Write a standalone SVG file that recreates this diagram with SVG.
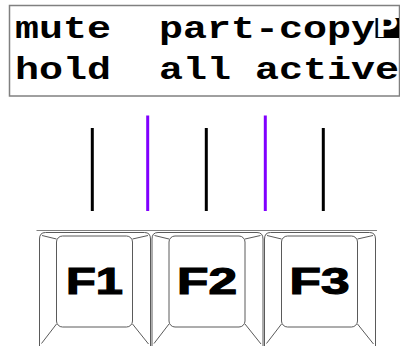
<svg xmlns="http://www.w3.org/2000/svg" width="400" height="346" viewBox="0 0 400 346">
<style>
.lcd{font-family:"Liberation Mono","Courier New",monospace;font-weight:bold;font-size:31px;fill:#000}
.frame{fill:#fff;stroke:#808080;stroke-width:1.5}
.key{fill:#fff;stroke:#5a5a5a;stroke-width:1}
.bev{fill:none;stroke:#5a5a5a;stroke-width:1}
.lbl{font-family:"Liberation Sans",Arial,sans-serif;font-weight:bold;font-size:37px;fill:#000;stroke:#000;stroke-width:1.2;text-anchor:middle}
.blk{stroke:#000;stroke-width:3}
.pur{stroke:#8000ff;stroke-width:3}
</style>
<rect width="400" height="346" fill="#fff"/>
<g id="display">
<rect class="frame" x="9.5" y="5.5" width="390" height="90.5"/>
<text class="lcd" x="15" y="38" textLength="96" lengthAdjust="spacingAndGlyphs">mute</text>
<text class="lcd" x="159" y="38" textLength="216" lengthAdjust="spacingAndGlyphs">part-copy</text>
<rect x="375.5" y="18" width="23.5" height="20" fill="#000"/>
<text class="lcd" x="375.5" y="37" textLength="23" lengthAdjust="spacingAndGlyphs" style="fill:#fff">P</text>
<text class="lcd" x="15" y="78.5" textLength="96" lengthAdjust="spacingAndGlyphs">hold</text>
<text class="lcd" x="159" y="78.5" textLength="72" lengthAdjust="spacingAndGlyphs">all</text>
<text class="lcd" x="255" y="78.5" textLength="144" lengthAdjust="spacingAndGlyphs">active</text>
</g>
<g id="connectors">
<line class="blk" x1="92.3" y1="128" x2="92.3" y2="211"/>
<line class="pur" x1="147.7" y1="115.5" x2="147.7" y2="211"/>
<line class="blk" x1="206.3" y1="128" x2="206.3" y2="211"/>
<line class="pur" x1="265.3" y1="115.5" x2="265.3" y2="211"/>
<line class="blk" x1="323.3" y1="128" x2="323.3" y2="211"/>
</g>
<line x1="36.5" y1="230.5" x2="377" y2="230.5" stroke="#808080" stroke-width="1.2"/>
<g id="key-f1" transform="translate(39.5,0)">
<path class="key" d="M0,347 L0,239 Q0,232.5 6,232.5 L105,232.5 Q111,232.5 111,239 L111,347"/>
<rect class="key" x="17" y="236" width="76" height="91" rx="6"/>
<path class="bev" d="M2.5,235.5 L17,239 M108.5,235.5 L93,239 M17,324 L2,343.5 M93,324 L109,344"/>
<text class="lbl" x="55" y="294" textLength="57" lengthAdjust="spacingAndGlyphs">F1</text>
</g>
<g id="key-f2" transform="translate(152,0)">
<path class="key" d="M0,347 L0,239 Q0,232.5 6,232.5 L105,232.5 Q111,232.5 111,239 L111,347"/>
<rect class="key" x="17" y="236" width="76" height="91" rx="6"/>
<path class="bev" d="M2.5,235.5 L17,239 M108.5,235.5 L93,239 M17,324 L2,343.5 M93,324 L109,344"/>
<text class="lbl" x="55" y="294" textLength="60" lengthAdjust="spacingAndGlyphs">F2</text>
</g>
<g id="key-f3" transform="translate(264.5,0)">
<path class="key" d="M0,347 L0,239 Q0,232.5 6,232.5 L105,232.5 Q111,232.5 111,239 L111,347"/>
<rect class="key" x="17" y="236" width="76" height="91" rx="6"/>
<path class="bev" d="M2.5,235.5 L17,239 M108.5,235.5 L93,239 M17,324 L2,343.5 M93,324 L109,344"/>
<text class="lbl" x="55" y="294" textLength="60" lengthAdjust="spacingAndGlyphs">F3</text>
</g>
</svg>
